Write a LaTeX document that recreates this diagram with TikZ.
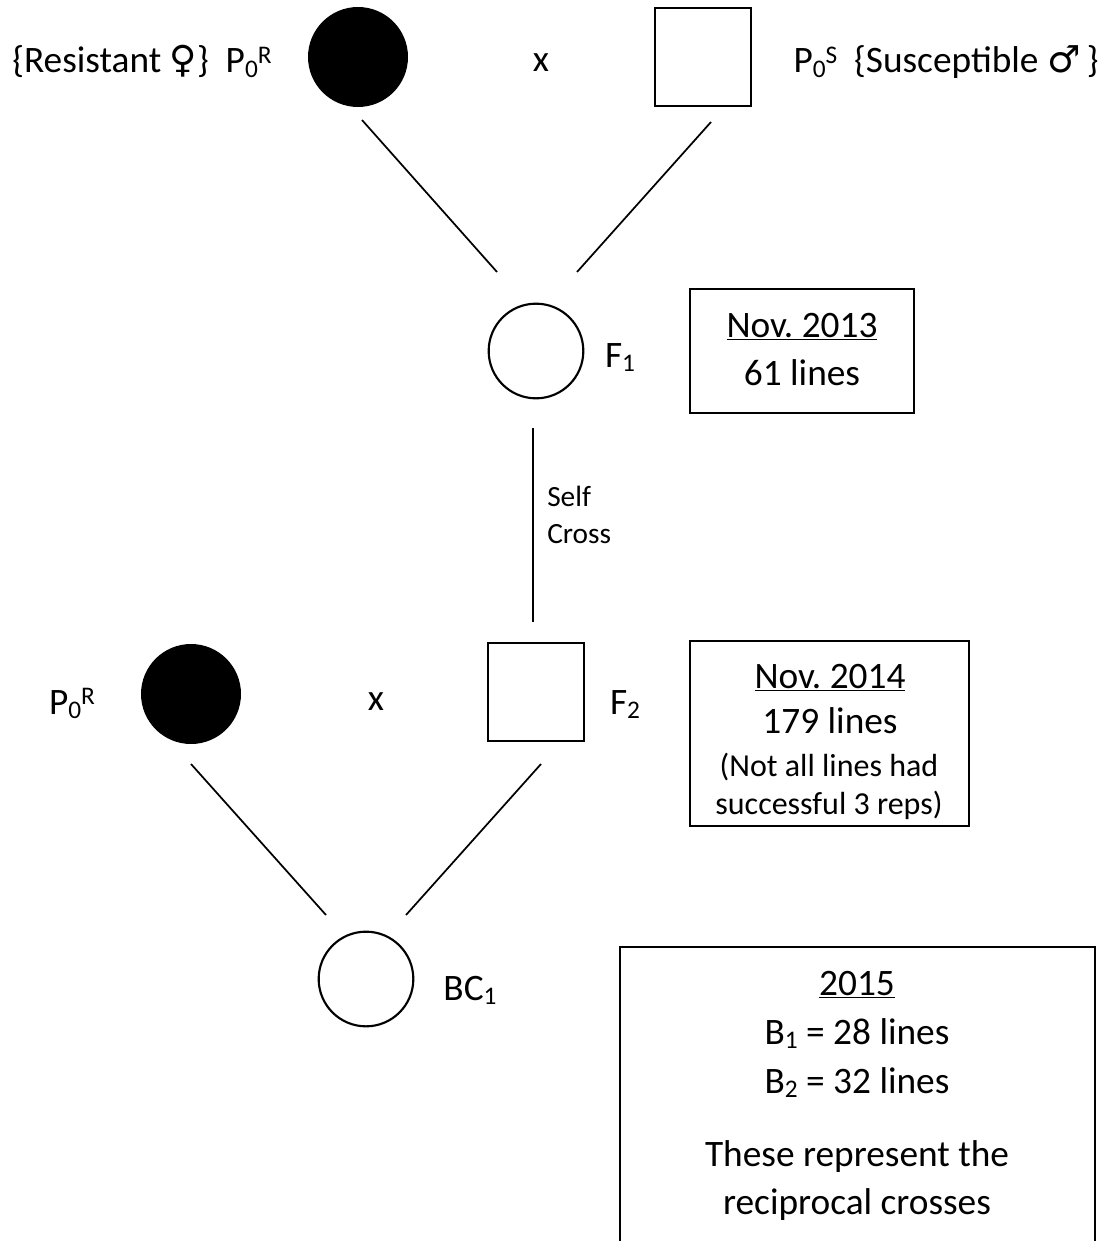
\documentclass[tikz,border=0pt]{standalone}
\usepackage{fontspec}
\setmainfont{Carlito}
\newfontfamily\symfont{DejaVu Sans}
\newcommand{\dn}[1]{\raisebox{-0.12em}{\fontsize{19}{19}\selectfont #1}}
\newcommand{\up}[1]{\raisebox{0.26em}{\fontsize{19}{19}\selectfont #1}}
\begin{document}
\begin{tikzpicture}[x=0.75pt,y=-0.75pt,
  big/.style={font=\fontsize{28}{34}\selectfont, inner sep=0, anchor=base},
  small/.style={font=\fontsize{24}{29}\selectfont, inner sep=0, anchor=base},
  tiny/.style={font=\fontsize{22}{26}\selectfont, inner sep=0, anchor=base west},
  resist/.style={circle, fill=black, minimum size=75pt, inner sep=0},
  offc/.style={circle, draw, line width=1.6pt, minimum size=71pt, inner sep=0},
  offsq/.style={rectangle, draw, line width=1.6pt, minimum width=72pt, minimum height=73pt, inner sep=0},
  infobox/.style={rectangle, draw, line width=1.2pt, inner sep=0},
  link/.style={line width=1.3pt}]
\useasboundingbox (0,0) rectangle (1108,1241);

% Generation P0
\node[resist] (p0r) at (358,57) {};
\node[offsq] (p0s) at (703,57) {};
\node[big] (lblR) at (142,73) {\{Resistant {\symfont ♀}\}\ \ P\dn{0}\up{R}};
\node[big] (lblS) at (946,73) {P\dn{0}\up{S}\ \ \{Susceptible {\symfont ♂}\,\}};
\node[big] (x1) at (541,72) {x};

% F1
\node[offc] (f1) at (536,351) {};
\node[big] (f1l) at (620,367) {F\dn{1}};
\node[infobox, minimum width=168pt, minimum height=93pt] (box1) at (802,351) {};
\node[big] (b1t) at (802,337) {\underline{Nov.\ 2013}};
\node[big] (b1l) at (802,385) {61 lines};

\coordinate (a1) at (362,120); \coordinate (a2) at (497,272);
\coordinate (c1) at (711,122); \coordinate (c2) at (577,272);
\draw[link] (a1) -- (a2);
\draw[link] (c1) -- (c2);

% self cross
\coordinate (v1) at (533,428); \coordinate (v2) at (533,622);
\draw[link] (v1) -- (v2);
\node[tiny] (self) at (547,506) {Self};
\node[tiny] (cross) at (547,543) {Cross};

% F2 generation
\node[offsq] (f2) at (536,692) {};
\node[big] (f2l) at (625,714) {F\dn{2}};
\node[resist] (p0r2) at (191,694) {};
\node[big] (p0r2l) at (72,714) {P\dn{0}\up{R}};
\node[big] (x2) at (376,710) {x};
\node[infobox, minimum width=209pt, minimum height=139pt] (box2) at (829.5,733.5) {};
\node[big] (b2t) at (830,688) {\underline{Nov.\ 2014}};
\node[big] (b2l) at (830,733) {179 lines};
\node[small] (b2n1) at (829,776) {(Not all lines had};
\node[small] (b2n2) at (829,814) {successful 3 reps)};

\coordinate (d1) at (191,764); \coordinate (d2) at (326,915);
\coordinate (e1) at (541,764); \coordinate (e2) at (406,915);
\draw[link] (d1) -- (d2);
\draw[link] (e1) -- (e2);

% BC1
\node[offc] (bc1) at (366,979) {};
\node[big] (bc1l) at (470,1000) {BC\dn{1}};

\coordinate (g1) at (620,1241); \coordinate (g2) at (620,947);
\coordinate (g3) at (1095,947); \coordinate (g4) at (1095,1241);
\draw[line width=1.2pt] (g1) -- (g2) -- (g3) -- (g4);
\node[big] (b3t) at (857,995) {\underline{2015}};
\node[big] (b3a) at (857,1044) {B\dn{1} = 28 lines};
\node[big] (b3b) at (857,1093) {B\dn{2} = 32 lines};
\node[big] (b3c) at (857,1166) {These represent the};
\node[big] (b3d) at (857,1214) {reciprocal crosses};
\end{tikzpicture}
\end{document}
